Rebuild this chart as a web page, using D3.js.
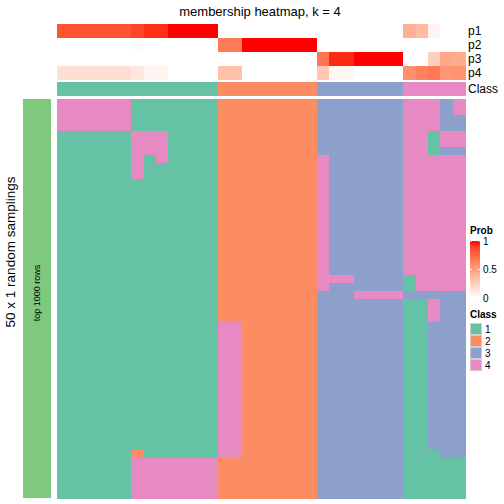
<!DOCTYPE html>
<html>
<head>
<meta charset="utf-8">
<script src="https://cdn.jsdelivr.net/npm/d3@7"></script>
<style>
  html, body { margin: 0; padding: 0; background: #fff; }
  text { font-family: "Liberation Sans", Arial, Helvetica, sans-serif; }
</style>
</head>
<body>
<svg id="chart" width="504" height="504"></svg>
<script>
// ---- data ----
const classNames = ["1", "2", "3", "4"];
const classColors = ["#66C2A5", "#FC8D62", "#8DA0CB", "#E78AC3"];
const probRows = ["p1", "p2", "p3", "p4"];
// per-column membership probabilities (33 columns)
const p1 = [0.83,0.83,0.83,0.83,0.83,0.83,0.88,0.94,0.94,1,1,1,1, 0,0,0,0,0,0,0,0, 0,0,0,0,0,0,0, 0.42,0.36,0.06,0,0];
const p2 = [0,0,0,0,0,0,0.02,0,0,0,0,0,0, 0.67,0.67,1,1,1,1,1,1, 0,0,0,0,0,0,0, 0,0,0,0,0];
const p3 = [0,0,0,0,0,0,0,0,0,0,0,0,0, 0,0,0,0,0,0,0,0, 0.7,0.95,0.95,1,1,1,1, 0,0,0.26,0.46,0.44];
const p4 = [0.17,0.17,0.17,0.17,0.17,0.17,0.12,0.06,0.06,0,0,0,0, 0.33,0.33,0,0,0,0,0,0, 0.3,0.05,0.05,0,0,0,0, 0.58,0.64,0.68,0.54,0.56];
const columnClass = "1111111111111222222223333333" + "44444";
// 50 random samplings x 33 columns, class per cell
const samplings = [
  "444444111111122222222333333344434",
  "444444111111122222222333333344434",
  "444444111111122222222333333344433",
  "444444111111122222222333333344433",
  "111111444111122222222333333344144",
  "111111444111122222222333333344144",
  "111111444111122222222333333344133",
  "111111414111122222222433333344444",
  "111111411111122222222433333344444",
  "111111411111122222222433333344444",
  "111111111111122222222433333344444",
  "111111111111122222222433333344444",
  "111111111111122222222433333344444",
  "111111111111122222222433333344444",
  "111111111111122222222433333344444",
  "111111111111122222222433333344444",
  "111111111111122222222433333344444",
  "111111111111122222222433333344444",
  "111111111111122222222433333344444",
  "111111111111122222222433333344444",
  "111111111111122222222433333344444",
  "111111111111122222222433333344444",
  "111111111111122222222444333314444",
  "111111111111122222222433333314444",
  "111111111111122222222333444433333",
  "111111111111122222222333333311433",
  "111111111111122222222333333311433",
  "111111111111122222222333333311433",
  "111111111111144222222333333311333",
  "111111111111144222222333333311333",
  "111111111111144222222333333311333",
  "111111111111144222222333333311333",
  "111111111111144222222333333311333",
  "111111111111144222222333333311333",
  "111111111111144222222333333311333",
  "111111111111144222222333333311333",
  "111111111111144222222333333311333",
  "111111111111144222222333333311333",
  "111111111111144222222333333311333",
  "111111111111144222222333333311333",
  "111111111111144222222333333311333",
  "111111111111144222222333333311333",
  "111111111111144222222333333311333",
  "111111111111144222222333333311333",
  "111111211111144222222333333311133",
  "111111444444422222222333333311111",
  "111111444444422222222333333311111",
  "111111444444422222222333333311111",
  "111111444444422222222333333311111",
  "111111444444422222222333333311111"
];
const probTicks = [0, 0.5, 1];
const titleText = "membership heatmap, k = 4";
const rowTitle = "50 x 1 random samplings";
const groupLabel = "top 1000 rows";

// ---- chart ----
const svg = d3.select("#chart");
const nCol = p1.length;
const cols = d3.range(nCol);
const x = d3.scaleBand().domain(cols).range([57, 465]);
const annY = d3.scaleBand().domain(probRows).range([24, 80]);
const rowsIdx = d3.range(samplings.length);
const y = d3.scaleBand().domain(rowsIdx).range([99, 498]);
const probColor = d3.scaleLinear().domain([0, 1]).range(["#ffffff", "#ff0000"]).interpolate(d3.interpolateLab);
const classColor = d3.scaleOrdinal().domain(classNames).range(classColors);

const probData = [p1, p2, p3, p4];
const g = svg.append("g").attr("shape-rendering", "crispEdges");

probRows.forEach((r, ri) => {
  g.selectAll(null).data(cols).enter().append("rect")
    .attr("x", c => x(c)).attr("y", annY(r))
    .attr("width", x.bandwidth() + 0.5).attr("height", annY.bandwidth() + 0.3)
    .attr("fill", c => probColor(probData[ri][c]));
});
// class annotation
g.selectAll(null).data(cols).enter().append("rect")
  .attr("x", c => x(c)).attr("y", 82)
  .attr("width", x.bandwidth() + 0.5).attr("height", 14)
  .attr("fill", c => classColor(columnClass[c]));

// main heatmap
const cells = [];
samplings.forEach((row, ri) => { for (let c = 0; c < nCol; c++) cells.push({r: ri, c: c, v: row[c]}); });
g.selectAll(null).data(cells).enter().append("rect")
  .attr("x", d => x(d.c)).attr("y", d => y(d.r))
  .attr("width", x.bandwidth() + 0.5).attr("height", y.bandwidth() + 0.5)
  .attr("fill", d => classColor(d.v));

// left group bar
g.append("rect").attr("x", 23).attr("y", 99).attr("width", 28).attr("height", 399).attr("fill", "#7FC97F");

// labels
svg.append("text").attr("x", 260).attr("y", 16).attr("text-anchor", "middle")
  .attr("font-size", 13).text(titleText);
const rightLabels = probRows.concat(["Class"]);
rightLabels.forEach((lab, i) => {
  const cy = i < 4 ? annY(lab) + annY.bandwidth() / 2 : 89;
  svg.append("text").attr("x", 468).attr("y", cy).attr("dy", "0.36em")
    .attr("font-size", 12).text(lab);
});
svg.append("text").attr("transform", "translate(15,252) rotate(-90)")
  .attr("text-anchor", "middle").attr("font-size", 13.5).text(rowTitle);
svg.append("text").attr("transform", "translate(37,293) rotate(-90)")
  .attr("text-anchor", "middle").attr("dy", "0.36em").attr("font-size", 9).text(groupLabel);

// Prob legend
svg.append("text").attr("x", 470).attr("y", 234).attr("font-size", 10).attr("font-weight", "bold").text("Prob");
const defs = svg.append("defs");
const grad = defs.append("linearGradient").attr("id", "pg").attr("x1", 0).attr("y1", 1).attr("x2", 0).attr("y2", 0);
d3.range(0, 1.0001, 0.1).forEach(t => grad.append("stop").attr("offset", t).attr("stop-color", probColor(t)));
const ly = d3.scaleLinear().domain([0, 1]).range([298, 241]);
svg.append("rect").attr("x", 470).attr("y", ly(1)).attr("width", 10).attr("height", ly(0) - ly(1)).attr("fill", "url(#pg)");
probTicks.forEach(t => {
  if (t > 0) {
    svg.append("line").attr("x1", 470).attr("x2", 472).attr("y1", ly(t)).attr("y2", ly(t)).attr("stroke", "#fff");
    svg.append("line").attr("x1", 478).attr("x2", 480).attr("y1", ly(t)).attr("y2", ly(t)).attr("stroke", "#fff");
  }
  svg.append("text").attr("x", 483).attr("y", ly(t)).attr("dy", "0.36em").attr("font-size", 10).text(t);
});

// Class legend
svg.append("text").attr("x", 470).attr("y", 318).attr("font-size", 10).attr("font-weight", "bold").text("Class");
const ls = d3.scaleBand().domain(classNames).range([323, 371]);
classNames.forEach(cn => {
  svg.append("rect").attr("x", 470.5).attr("y", ls(cn) + 0.5).attr("width", 11).attr("height", ls.bandwidth() - 1)
    .attr("fill", classColor(cn)).attr("stroke", "#ccc").attr("stroke-width", 0.8);
  svg.append("text").attr("x", 485).attr("y", ls(cn) + ls.bandwidth() / 2).attr("dy", "0.36em").attr("font-size", 10).text(cn);
});
</script>
</body>
</html>
